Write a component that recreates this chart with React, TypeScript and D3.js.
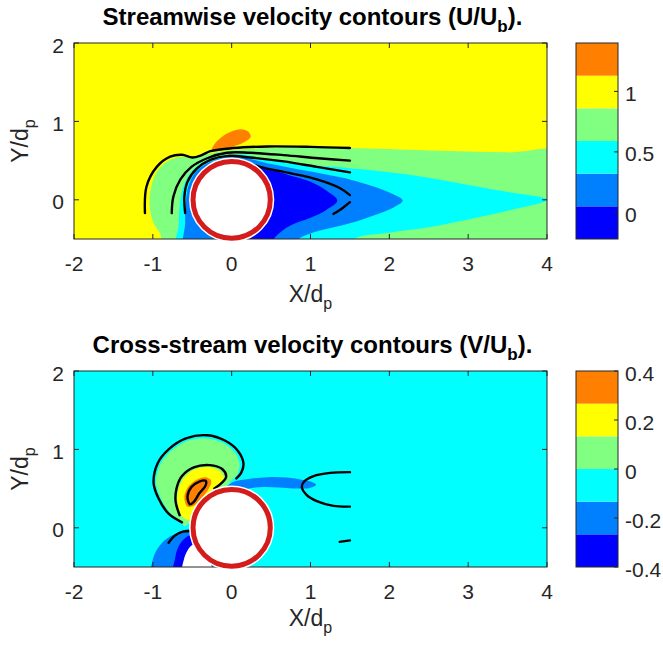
import React from 'react';
import * as d3 from 'd3';

type P = [number, number];

// ---------- data ----------
const bandColors = ['#0000ff', '#0080ff', '#00ffff', '#80ff80', '#ffff00', '#ff8000'];

const uLevels = [-0.22, 0.05, 0.32, 0.59, 0.86, 1.13, 1.4];
const vLevels = [-0.4, -0.2667, -0.1333, 0, 0.1333, 0.2667, 0.4];
const uTickVals = [0, 0.5, 1];
const vTickVals = [-0.4, -0.2, 0, 0.2, 0.4];
const xTickVals = [-2, -1, 0, 1, 2, 3, 4];
const yTickVals = [0, 1, 2];

// streamwise (U/Ub) band regions, data units
const uGreen: P[] = [[-0.86, -0.7], [-0.9, -0.45], [-0.99, -0.3], [-1.04, -0.08], [-1.02, 0.17], [-0.94, 0.37], [-0.8, 0.5], [-0.64, 0.55], [-0.5, 0.53], [-0.35, 0.57], [-0.15, 0.615], [0.1, 0.64], [0.5, 0.665], [1.0, 0.67], [1.5, 0.66], [2.5, 0.63], [3.5, 0.605], [4.3, 0.59], [4.3, -0.7]];
const uCyan: P[] = [[-0.68, -0.7], [-0.67, -0.3], [-0.65, 0.0], [-0.6, 0.2], [-0.5, 0.37], [-0.35, 0.49], [-0.15, 0.56], [0.1, 0.58], [0.4, 0.53], [0.74, 0.47], [1.3, 0.42], [2.0, 0.35], [2.5, 0.28], [3.0, 0.19], [3.5, 0.1], [4.0, 0.0], [3.5, -0.14], [3.0, -0.25], [2.5, -0.35], [2.0, -0.42], [1.55, -0.5], [1.4, -0.7]];
const uBlue: P[] = [[-0.59, -0.7], [-0.59, -0.3], [-0.58, 0.0], [-0.54, 0.2], [-0.45, 0.36], [-0.3, 0.47], [-0.1, 0.54], [0.15, 0.54], [0.4, 0.48], [0.74, 0.41], [1.0, 0.36], [1.5, 0.26], [1.8, 0.17], [2.05, 0.07], [2.17, -0.01], [2.05, -0.1], [1.8, -0.2], [1.5, -0.3], [1.0, -0.43], [0.82, -0.52], [0.7, -0.7]];
const uDark: P[] = [[-0.1, 0.3], [0.15, 0.48], [0.35, 0.43], [0.74, 0.31], [1.0, 0.23], [1.2, 0.12], [1.34, -0.01], [1.2, -0.13], [1.0, -0.23], [0.74, -0.33], [0.6, -0.43], [0.52, -0.52], [0.45, -0.7], [0.1, -0.6], [-0.1, -0.3]];
const uOrange: P[] = [[-0.25, 0.63], [-0.21, 0.72], [-0.1, 0.82], [0.02, 0.88], [0.12, 0.9], [0.21, 0.87], [0.24, 0.8], [0.15, 0.73], [0.02, 0.68], [-0.13, 0.635]];

// streamwise black contour lines
const uLineA: P[] = [[-1.1, -0.17], [-1.08, 0.17], [-0.95, 0.42], [-0.78, 0.55], [-0.63, 0.575], [-0.5, 0.54], [-0.38, 0.57], [-0.27, 0.62], [0.02, 0.66], [0.45, 0.68], [1.0, 0.675], [1.5, 0.66]];
const uLineB: P[] = [[-0.76, -0.17], [-0.74, 0.04], [-0.65, 0.26], [-0.51, 0.42], [-0.31, 0.53], [-0.06, 0.6], [0.23, 0.6], [0.66, 0.57], [1.1, 0.53], [1.5, 0.5]];
const uLineC: P[] = [[-0.59, -0.17], [-0.6, 0.04], [-0.56, 0.23], [-0.44, 0.4], [-0.27, 0.51], [-0.05, 0.56], [0.23, 0.54], [0.66, 0.49], [1.08, 0.42], [1.5, 0.35]];
const uLineD: P[] = [[0.15, 0.49], [0.36, 0.42], [0.74, 0.34], [1.08, 0.26], [1.37, 0.15], [1.5, 0.06]];
const uLineE: P[] = [[1.5, -0.03], [1.4, -0.11], [1.29, -0.18]];

// cross-stream (V/Ub) band regions
const vGreen: P[] = [[-0.6, 0.02], [-0.63, 0.08], [-0.78, 0.19], [-0.9, 0.38], [-0.96, 0.57], [-0.91, 0.8], [-0.78, 0.97], [-0.58, 1.1], [-0.32, 1.14], [-0.1, 1.08], [0.04, 0.96], [0.1, 0.82], [0.08, 0.7], [0.0, 0.6], [-0.2, 0.4], [-0.4, 0.2]];
const vYellow: P[] = [[-0.6, 0.12], [-0.69, 0.33], [-0.67, 0.5], [-0.6, 0.64], [-0.47, 0.745], [-0.29, 0.775], [-0.15, 0.72], [-0.1, 0.64], [-0.15, 0.55], [-0.25, 0.4], [-0.4, 0.2], [-0.45, 0.12]];
const vOrange: P[] = [[-0.56, 0.27], [-0.6, 0.38], [-0.56, 0.51], [-0.45, 0.61], [-0.33, 0.645], [-0.26, 0.6], [-0.29, 0.5], [-0.38, 0.38], [-0.48, 0.28]];
const vBlueBand: P[] = [[-0.1, 0.45], [0.0, 0.575], [0.2, 0.62], [0.45, 0.645], [0.7, 0.64], [0.9, 0.61], [1.0, 0.59], [1.07, 0.55], [1.0, 0.51], [0.85, 0.5], [0.6, 0.515], [0.4, 0.52], [0.2, 0.495], [0.05, 0.4]];
const vBlueLow: P[] = [[-1.03, -0.7], [-1.01, -0.45], [-0.96, -0.3], [-0.85, -0.16], [-0.7, -0.07], [-0.55, -0.02], [-0.4, -0.05], [-0.3, -0.3], [-0.25, -0.7]];
const vDarkLow: P[] = [[-0.75, -0.7], [-0.72, -0.4], [-0.68, -0.25], [-0.6, -0.14], [-0.5, -0.09], [-0.4, -0.12], [-0.3, -0.3], [-0.25, -0.7]];
const vWhiteLow: P[] = [[-0.63, -0.7], [-0.61, -0.42], [-0.56, -0.29], [-0.5, -0.22], [-0.42, -0.21], [-0.3, -0.35], [-0.25, -0.7]];

// cross-stream black contour lines
const vLineOuter: P[] = [[-0.63, 0.07], [-0.8, 0.18], [-0.93, 0.38], [-0.99, 0.57], [-0.94, 0.82], [-0.8, 1.0], [-0.58, 1.14], [-0.31, 1.18], [-0.08, 1.11], [0.08, 0.98], [0.15, 0.82], [0.12, 0.7], [0.06, 0.63]];
const vLineYellow: P[] = [[-0.66, 0.16], [-0.71, 0.33], [-0.7, 0.5], [-0.63, 0.66], [-0.48, 0.77], [-0.28, 0.8], [-0.12, 0.75], [-0.07, 0.65], [-0.14, 0.56], [-0.22, 0.5]];
const vLoopInner: P[] = [[-0.53, 0.3], [-0.56, 0.4], [-0.51, 0.52], [-0.41, 0.59], [-0.33, 0.6], [-0.33, 0.54], [-0.41, 0.44], [-0.48, 0.33]];
const vLineC: P[] = [[1.5, 0.71], [1.25, 0.7], [1.04, 0.66], [0.92, 0.59], [0.89, 0.52], [0.95, 0.42], [1.08, 0.34], [1.29, 0.28], [1.5, 0.27]];
const vDash: P[] = [[1.37, -0.18], [1.5, -0.16]];
const vArc: P[] = [[-0.8, -0.19], [-0.72, -0.1], [-0.62, -0.05], [-0.52, -0.04]];

const cylinderRadius = 0.49;

// ---------- layout ----------
const W = 663;
const H = 646;
const AX_X0 = 74;
const AX_X1 = 547;
const CB_X0 = 576;
const CB_X1 = 618;
const FONT = '"Liberation Sans", Arial, Helvetica, sans-serif';
const AXIS_COLOR = '#262626';

interface Region { pts: P[]; fill: string }
interface Line { pts: P[]; closed?: boolean }

interface PanelProps {
  id: string;
  top: number;
  bottom: number;
  bg: string;
  regions: Region[];
  lines: Line[];
  levels: number[];
  cbTicks: number[];
  title: [string, string, string];
  titleY: number;
  labelY: number;
}

function Panel({ id, top, bottom, bg, regions, lines, levels, cbTicks, title, titleY, labelY }: PanelProps) {
  const x = d3.scaleLinear().domain([-2, 4]).range([AX_X0, AX_X1]);
  const y = d3.scaleLinear().domain([-0.5, 2]).range([bottom, top]);
  const c = d3.scaleLinear().domain([levels[0], levels[levels.length - 1]]).range([bottom, top]);
  const closedGen = d3.line<P>().x(d => x(d[0])).y(d => y(d[1])).curve(d3.curveCatmullRomClosed.alpha(0.5));
  const openGen = d3.line<P>().x(d => x(d[0])).y(d => y(d[1])).curve(d3.curveCatmullRom.alpha(0.5));
  const cx = x(0);
  const cy = y(0);
  const rx = x(cylinderRadius) - x(0);
  const ry = y(0) - y(cylinderRadius);
  const tickLen = 5;
  const midX = (AX_X0 + AX_X1) / 2;
  const midY = (top + bottom) / 2;
  const fmt = (v: number) => String(v);
  const tickFont = 21;

  return (
    <g>
      <defs>
        <clipPath id={id}>
          <rect x={AX_X0} y={top} width={AX_X1 - AX_X0} height={bottom - top} />
        </clipPath>
      </defs>
      <g clipPath={`url(#${id})`}>
        <rect x={AX_X0} y={top} width={AX_X1 - AX_X0} height={bottom - top} fill={bg} />
        {regions.map((r, i) => (
          <path key={i} d={closedGen(r.pts) || ''} fill={r.fill} stroke="none" />
        ))}
        {lines.map((l, i) => (
          <path key={i} d={(l.closed ? closedGen(l.pts) : openGen(l.pts)) || ''} fill="none" stroke="#000" strokeWidth={2.4} strokeLinecap="round" />
        ))}
      </g>
      {/* axes box and ticks */}
      <rect x={AX_X0} y={top} width={AX_X1 - AX_X0} height={bottom - top} fill="none" stroke={AXIS_COLOR} strokeWidth={1} />
      {xTickVals.map(v => (
        <g key={'xt' + v}>
          <line x1={x(v)} x2={x(v)} y1={bottom} y2={bottom - tickLen} stroke={AXIS_COLOR} />
          <line x1={x(v)} x2={x(v)} y1={top} y2={top + tickLen} stroke={AXIS_COLOR} />
          <text x={x(v)} y={bottom + 24} textAnchor="middle" dominantBaseline="central" fontFamily={FONT} fontSize={tickFont} fill="#262626">{fmt(v)}</text>
        </g>
      ))}
      {yTickVals.map(v => (
        <g key={'yt' + v}>
          <line x1={AX_X0} x2={AX_X0 + tickLen} y1={y(v)} y2={y(v)} stroke={AXIS_COLOR} />
          <line x1={AX_X1} x2={AX_X1 - tickLen} y1={y(v)} y2={y(v)} stroke={AXIS_COLOR} />
          <text x={AX_X0 - 10} y={y(v) + 2} textAnchor="end" dominantBaseline="central" fontFamily={FONT} fontSize={tickFont} fill="#262626">{fmt(v)}</text>
        </g>
      ))}
      {/* cylinder */}
      <ellipse cx={cx} cy={cy} rx={rx} ry={ry} fill="#ffffff" stroke="#ffffff" strokeWidth={8} />
      <ellipse cx={cx} cy={cy} rx={rx} ry={ry} fill="none" stroke="#d41c1c" strokeWidth={5} />
      {/* title */}
      <text x={midX + 2} y={titleY} textAnchor="middle" fontFamily={FONT} fontSize={24} fontWeight="bold" fill="#000">
        {title[0]}
        <tspan fontSize={17} dy={7}>{title[1]}</tspan>
        <tspan fontSize={24} dy={-7}>{title[2]}</tspan>
      </text>
      {/* x label */}
      <text x={midX} y={labelY} textAnchor="middle" fontFamily={FONT} fontSize={23} fill="#262626">
        X/d<tspan fontSize={16} dy={7}>p</tspan>
      </text>
      {/* y label */}
      <text transform={`translate(28,${midY}) rotate(-90)`} textAnchor="middle" fontFamily={FONT} fontSize={23} fill="#262626">
        Y/d<tspan fontSize={16} dy={7}>p</tspan>
      </text>
      {/* colorbar */}
      {levels.slice(0, -1).map((lv, i) => (
        <rect key={'cb' + i} x={CB_X0} y={c(levels[i + 1])} width={CB_X1 - CB_X0} height={c(lv) - c(levels[i + 1])} fill={bandColors[i]} />
      ))}
      <rect x={CB_X0} y={top} width={CB_X1 - CB_X0} height={bottom - top} fill="none" stroke={AXIS_COLOR} strokeWidth={1} />
      {cbTicks.map(v => (
        <g key={'cbt' + v}>
          <line x1={CB_X1} x2={CB_X1 - 4} y1={c(v)} y2={c(v)} stroke={AXIS_COLOR} />
          <text x={CB_X1 + 7} y={c(v) + 2} dominantBaseline="central" fontFamily={FONT} fontSize={tickFont} fill="#262626">{fmt(v)}</text>
        </g>
      ))}
    </g>
  );
}

export default function App() {
  const uRegions: Region[] = [
    { pts: uGreen, fill: bandColors[3] },
    { pts: uCyan, fill: bandColors[2] },
    { pts: uBlue, fill: bandColors[1] },
    { pts: uDark, fill: bandColors[0] },
    { pts: uOrange, fill: bandColors[5] },
  ];
  const uLines: Line[] = [{ pts: uLineA }, { pts: uLineB }, { pts: uLineC }, { pts: uLineD }, { pts: uLineE }];
  const vRegions: Region[] = [
    { pts: vGreen, fill: bandColors[3] },
    { pts: vYellow, fill: bandColors[4] },
    { pts: vOrange, fill: bandColors[5] },
    { pts: vBlueBand, fill: bandColors[1] },
    { pts: vBlueLow, fill: bandColors[1] },
    { pts: vDarkLow, fill: bandColors[0] },
    { pts: vWhiteLow, fill: '#ffffff' },
  ];
  const vLines: Line[] = [
    { pts: vLineOuter }, { pts: vLineYellow }, { pts: vLoopInner, closed: true },
    { pts: vLineC }, { pts: vDash }, { pts: vArc },
  ];
  return (
    <svg width={W} height={H} viewBox={`0 0 ${W} ${H}`} style={{ position: 'absolute', left: 0, top: 0, background: '#fff' }}>
      <rect width={W} height={H} fill="#fff" />
      <Panel id="clipU" top={43} bottom={239} bg={bandColors[4]} regions={uRegions} lines={uLines}
        levels={uLevels} cbTicks={uTickVals} title={['Streamwise velocity contours (U/U', 'b', ').']}
        titleY={25} labelY={302} />
      <Panel id="clipV" top={371} bottom={567} bg={bandColors[2]} regions={vRegions} lines={vLines}
        levels={vLevels} cbTicks={vTickVals} title={['Cross-stream velocity contours (V/U', 'b', ').']}
        titleY={353} labelY={626} />
    </svg>
  );
}
